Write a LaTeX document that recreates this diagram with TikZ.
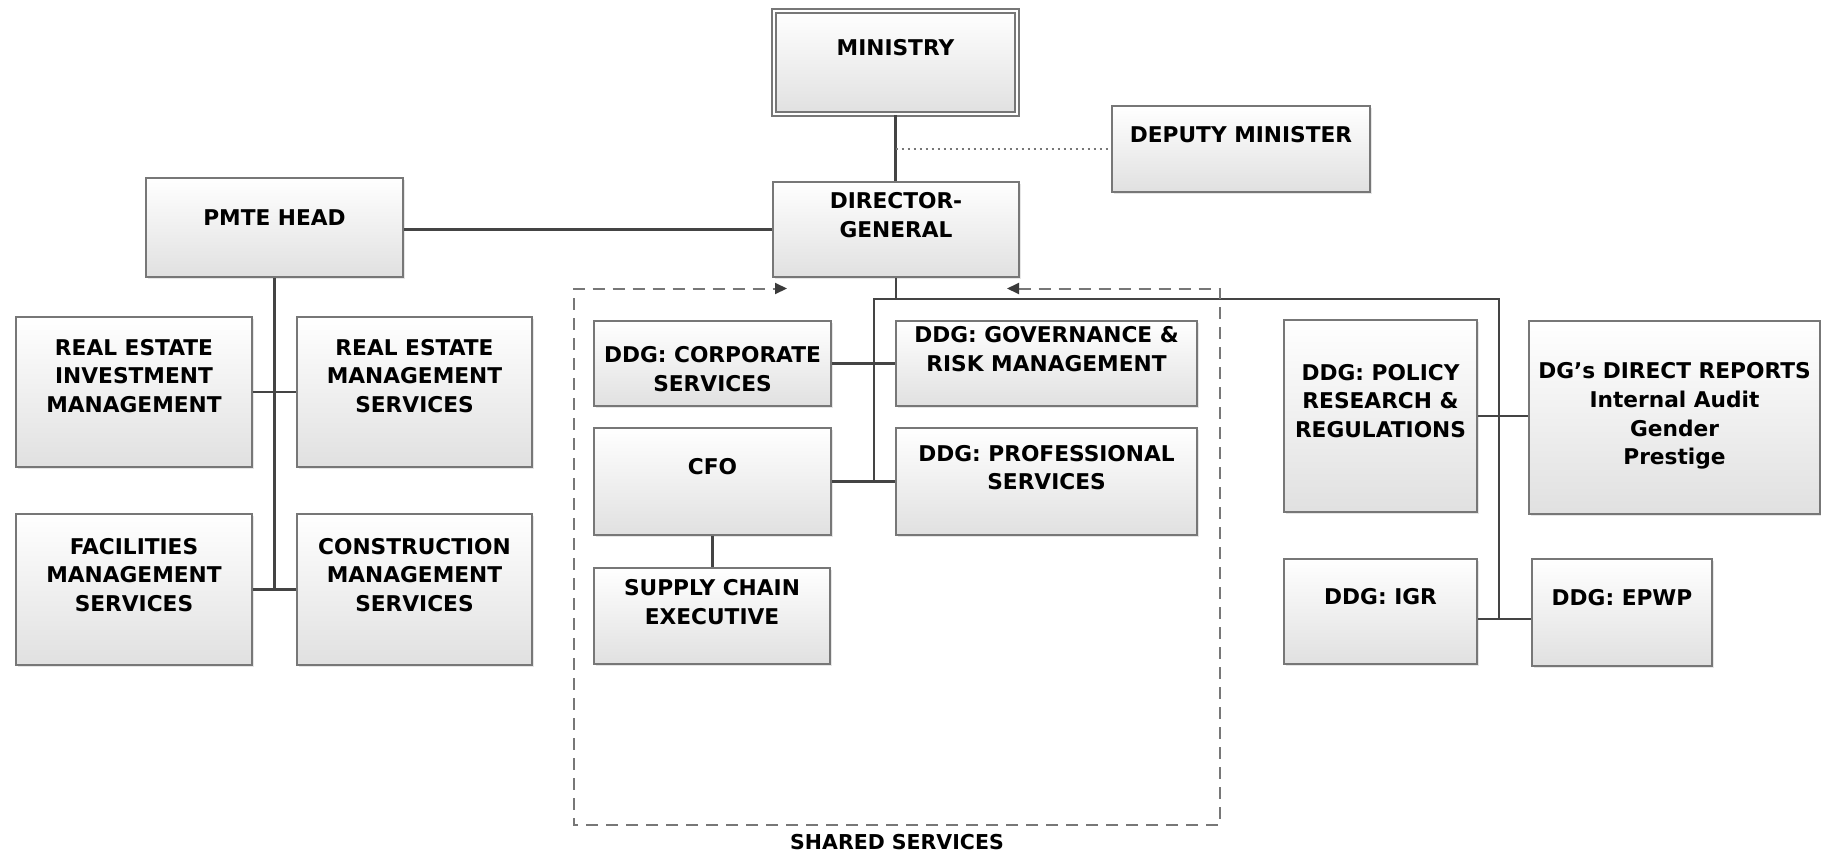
\documentclass[tikz,border=0pt]{standalone}
\usepackage{fontspec}
\setmainfont{DejaVu Sans}
\usepackage{xcolor}
\usetikzlibrary{arrows.meta,shadows}

\definecolor{boxline}{HTML}{777777}
\definecolor{wire}{HTML}{444444}
\definecolor{dashgray}{HTML}{777777}
\definecolor{tipgray}{HTML}{3A3A3A}

\begin{document}
\begin{tikzpicture}[x=1pt, y=-1pt,
    orgbox/.style 2 args={rectangle, draw=boxline, line width=1.6pt, top color=white, bottom color=black!12,
        minimum width=#1, minimum height=#2, inner sep=0pt,
        drop shadow={shadow xshift=2pt, shadow yshift=-2pt, opacity=0.2}},
    txt/.style={font=\bfseries\fontsize{21.7}{28.7}\selectfont, align=center, inner sep=0pt},
    conn/.style={draw=wire, line width=2.2pt},
    dotline/.style={draw=dashgray, line width=2.2pt, dash pattern=on 2.5pt off 3.5pt},
    frame/.style={draw=dashgray, line width=2pt, dash pattern=on 12pt off 8pt,
        >={Triangle[length=12pt, width=11pt, color=tipgray]}, <->}
]
    \useasboundingbox (0,0) rectangle (1821,854);

    % Ministry and DG
    \node[orgbox={243pt}{103pt}, double=white, double distance=2.5pt] (min) at (895.5,62.5) {};
    \node[txt] (min-t) at (895.5,48) {MINISTRY};
    \node[orgbox={258pt}{86pt}] (dep) at (1241,149) {};
    \node[txt] (dep-t) at (1241,135) {DEPUTY MINISTER};
    \node[orgbox={246pt}{95pt}] (dg) at (896,229.5) {};
    \node[txt] (dg-t) at (896,215) {DIRECTOR-\\GENERAL};

    % PMTE
    \node[orgbox={257pt}{99pt}] (pmte) at (274.5,227.5) {};
    \node[txt] (pmte-t) at (274.5,218) {PMTE HEAD};
    \node[orgbox={236pt}{150pt}] (rei) at (134,392) {};
    \node[txt] (rei-t) at (134,376) {REAL ESTATE\\INVESTMENT\\MANAGEMENT};
    \node[orgbox={235pt}{150pt}] (rem) at (414.5,392) {};
    \node[txt] (rem-t) at (414.5,376) {REAL ESTATE\\MANAGEMENT\\SERVICES};
    \node[orgbox={236pt}{151pt}] (fac) at (134,589.5) {};
    \node[txt] (fac-t) at (134,575) {FACILITIES\\MANAGEMENT\\SERVICES};
    \node[orgbox={235pt}{151pt}] (con) at (414.5,589.5) {};
    \node[txt] (con-t) at (414.5,575) {CONSTRUCTION\\MANAGEMENT\\SERVICES};

    % Shared services
    \node[orgbox={237pt}{85pt}] (corp) at (712.5,363.5) {};
    \node[txt] (corp-t) at (712.5,369) {DDG: CORPORATE\\SERVICES};
    \node[orgbox={301pt}{85pt}] (gov) at (1046.5,363.5) {};
    \node[txt] (gov-t) at (1046.5,349) {DDG: GOVERNANCE \&\\RISK MANAGEMENT};
    \node[orgbox={237pt}{107pt}] (cfo) at (712.5,481.5) {};
    \node[txt] (cfo-t) at (712.5,467) {CFO};
    \node[orgbox={301pt}{107pt}] (prof) at (1046.5,481.5) {};
    \node[txt] (prof-t) at (1046.5,467.5) {DDG: PROFESSIONAL\\SERVICES};
    \node[orgbox={236pt}{96pt}] (scm) at (712,616) {};
    \node[txt] (scm-t) at (712,602) {SUPPLY CHAIN\\EXECUTIVE};
    \node[txt, font=\bfseries\fontsize{20.5}{24}\selectfont] (shared-t) at (897,842) {SHARED SERVICES};

    % Other DDGs
    \node[orgbox={193pt}{192pt}] (pol) at (1380.5,416) {};
    \node[txt] (pol-t) at (1380.5,401) {DDG: POLICY\\RESEARCH \&\\REGULATIONS};
    \node[orgbox={291pt}{193pt}] (dgr) at (1674.5,417.5) {};
    \node[txt] (dgr-t) at (1674.5,416) {DG’s DIRECT REPORTS\\Internal Audit\\Gender\\Prestige};
    \node[orgbox={193pt}{105pt}] (igr) at (1380.5,611.5) {};
    \node[txt] (igr-t) at (1380.5,597) {DDG: IGR};
    \node[orgbox={180pt}{107pt}] (epwp) at (1622,612.5) {};
    \node[txt] (epwp-t) at (1622,598) {DDG: EPWP};

    % Lines
    \coordinate (busl) at (874,299);
    \coordinate (busr) at (1499,299);
    \coordinate (busb) at (1499,619);
    \draw[conn] (min.south) -- (min.south |- dg.north);
    \draw[dotline] (dep.west -| min.south) -- (dep.west);
    \draw[conn] (dg.west -| pmte.east) -- (dg.west);
    \draw[conn] (pmte.south) -- (pmte.south |- fac.east);
    \draw[conn] (rei) -- (rem);
    \draw[conn] (fac) -- (con);
    \draw[conn] (dg.south) -- (dg.south |- busl);
    \draw[conn] (busl |- cfo.east) -- (busl) -- (busr) -- (busb);
    \draw[conn] (corp) -- (gov);
    \draw[conn] (cfo) -- (prof);
    \draw[conn] (cfo.south) -- (cfo.south |- scm.north);
    \draw[conn] (pol.east) -- (pol.east -| dgr.west);
    \draw[conn] (igr.east |- busb) -- (epwp.west |- busb);

    % Shared services frame
    \draw[frame] (1007,288.5) -- (1220,288.5) -- (1220,825) -- (573.5,825) -- (573.5,288.5) -- (787,288.5);
\end{tikzpicture}
\end{document}
